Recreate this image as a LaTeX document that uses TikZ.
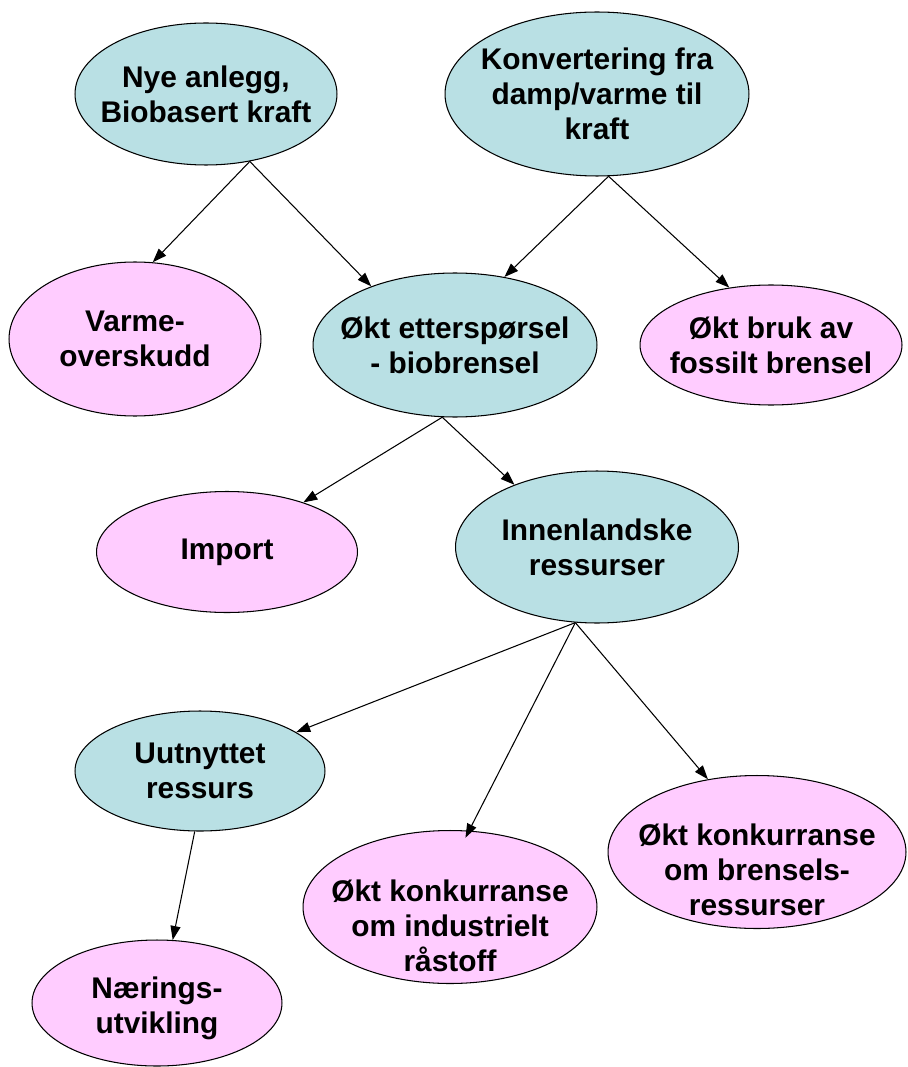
\documentclass[tikz,border=0pt]{standalone}
\usepackage{fontspec}
\setmainfont{Liberation Sans}
\usetikzlibrary{shapes.geometric,arrows.meta}

\definecolor{bubbleblue}{RGB}{185,224,228}
\definecolor{bubblepink}{RGB}{255,204,255}

\tikzstyle{bluebubble} = [ellipse, draw=black, line width=0.6pt, fill=bubbleblue, inner sep=0pt]
\tikzstyle{pinkbubble} = [ellipse, draw=black, line width=0.6pt, fill=bubblepink, inner sep=0pt]
\tikzstyle{txt} = [align=center, inner sep=0pt, font=\fontsize{17}{20}\selectfont\bfseries]
\tikzstyle{arrow} = [line width=0.6pt,-{Triangle[length=2.8mm,width=2mm]}]

\begin{document}
\begin{tikzpicture}[x=0.02cm,y=-0.02cm]
\useasboundingbox (0,0) rectangle (908,1067);

% ellipses
\node (nye) [bluebubble, minimum width=5.24cm, minimum height=2.84cm] at (206,94) {};
\node (konv) [bluebubble, minimum width=6.08cm, minimum height=3.28cm] at (597,94) {};
\node (varme) [pinkbubble, minimum width=5.04cm, minimum height=3.08cm] at (135,339) {};
\node (etter) [bluebubble, minimum width=5.68cm, minimum height=2.88cm] at (455,345) {};
\node (fossil) [pinkbubble, minimum width=5.24cm, minimum height=2.40cm] at (771,345) {};
\node (import) [pinkbubble, minimum width=5.22cm, minimum height=2.42cm] at (227,552) {};
\node (innen) [bluebubble, minimum width=5.66cm, minimum height=3.04cm] at (597,547) {};
\node (uutn) [bluebubble, minimum width=5.00cm, minimum height=2.40cm] at (200,771) {};
\node (indust) [pinkbubble, minimum width=5.88cm, minimum height=3.06cm] at (450,907) {};
\node (brensel) [pinkbubble, minimum width=5.96cm, minimum height=3.06cm] at (757,852) {};
\node (naering) [pinkbubble, minimum width=5.00cm, minimum height=2.52cm] at (157,1003) {};

% texts
\node (nyeT) [txt] at (nye) {Nye anlegg,\\Biobasert kraft};
\node (konvT) [txt] at (konv) {Konvertering fra\\damp/varme til\\kraft};
\node (varmeT) [txt] at (varme) {Varme-\\overskudd};
\node (etterT) [txt] at (etter) {Økt etterspørsel\\- biobrensel};
\node (fossilT) [txt] at (fossil) {Økt bruk av\\fossilt brensel};
\node (importT) [txt] at (import) {Import};
\node (innenT) [txt] at (innen) {Innenlandske\\ressurser};
\node (uutnT) [txt] at (uutn) {Uutnyttet\\ressurs};
\node (industT) [txt, yshift=-0.38cm] at (indust) {Økt konkurranse\\om industrielt\\råstoff};
\node (brenselT) [txt, yshift=-0.36cm] at (brensel) {Økt konkurranse\\om brensels-\\ressurser};
\node (naeringT) [txt, yshift=-0.11cm] at (naering) {Nærings-\\utvikling};

\draw [arrow] (nye.-57) -- (varme.77);
\draw [arrow] (nye.-57) -- (etter.145);
\draw [arrow] (konv.-82) -- (etter.54);
\draw [arrow] (konv.-82) -- (fossil.126);
\draw [arrow] (etter.-100) -- (import.33);
\draw [arrow] (etter.-100) -- (innen.143);
\draw [arrow] (innen.-106) -- (uutn.22);
\draw [arrow, shorten >=-0.16cm] (innen.-106) -- (indust.76);
\draw [arrow] (innen.-106) -- (brensel.124);
\draw [arrow] (uutn.-95) -- (naering.76);

\end{tikzpicture}
\end{document}
